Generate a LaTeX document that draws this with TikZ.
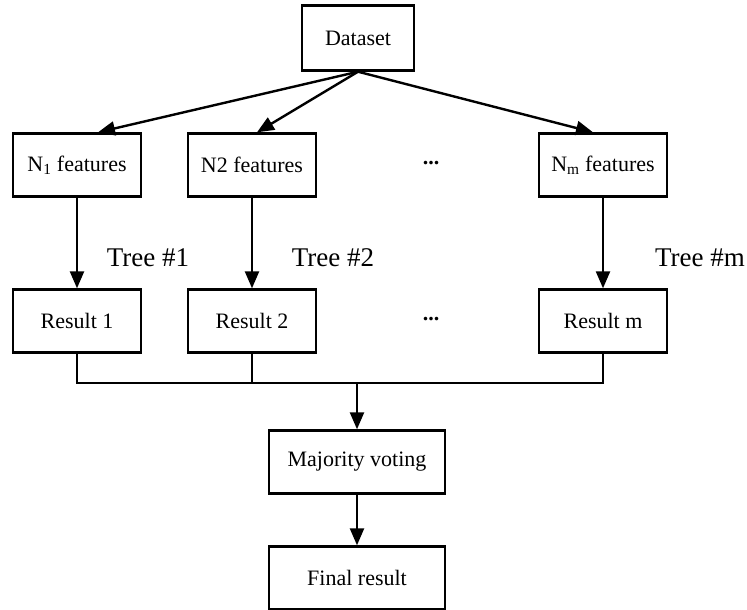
\documentclass[tikz,border=0pt]{standalone}
\usepackage{fontspec}
\setmainfont{Liberation Serif}
\usetikzlibrary{arrows.meta}
\begin{document}
\begin{tikzpicture}[
  x=1pt,y=-1pt,every node/.style={font=\fontsize{22}{26}\selectfont},
  every path/.style={line width=2.4pt},
  box/.style={rectangle,draw,fill=white,inner sep=0pt,
    minimum width=128pt,minimum height=63pt},
  wide/.style={box,minimum width=176pt},
  arr/.style={-{Triangle[length=17pt,width=14pt]}},
  treelabel/.style={font=\fontsize{27}{31}\selectfont}]
  \useasboundingbox (0,0) rectangle (747,610);
  % top: the data set is split into m feature sets
  \node[box,minimum width=112pt,minimum height=65pt] (ds) at (358,38) {Dataset};
  \node[box] (n1) at (77,165) {N\textsubscript{1} features};
  \node[box] (n2) at (252,165) {N2 features};
  \node[box] (nm) at (603,165) {N\textsubscript{m} features};
  \node (dotsn) at (431,163) {\textbf{...}};
  \draw[arr] (ds.south) -- ([xshift=21pt]n1.north);
  \draw[arr] (ds.south) -- ([xshift=5pt]n2.north);
  \draw[arr] (ds.south) -- ([xshift=-10pt]nm.north);

  % one tree per feature set
  \foreach \x/\t in {148/1,333/2,700/m} {
    \node[treelabel] (t\t) at (\x,258) {Tree \#\t};
  }
  \node[box] (r1) at (77,321) {Result 1};
  \node[box] (r2) at (252,321) {Result 2};
  \node[box] (rm) at (603,321) {Result m};
  \node (dotsr) at (431,319) {\textbf{...}};
  \foreach \n/\r in {n1/r1,n2/r2,nm/rm} {
    \draw[arr] (\n.south) -- (\r.north);
  }

  % results are joined and voted on
  \node[wide] (mv) at (357,462) {Majority voting};
  \node[wide] (fr) at (357,578) {Final result};
  \coordinate (jn) at (357,383);
  \draw[line width=1.6pt] (r1.south) |- (jn) -| (rm.south)
    (r2.south) -- (r2.south |- jn);
  \draw[arr] (jn) -- (mv.north);
  \draw[arr] (mv.south) -- (fr.north);
\end{tikzpicture}
\end{document}
